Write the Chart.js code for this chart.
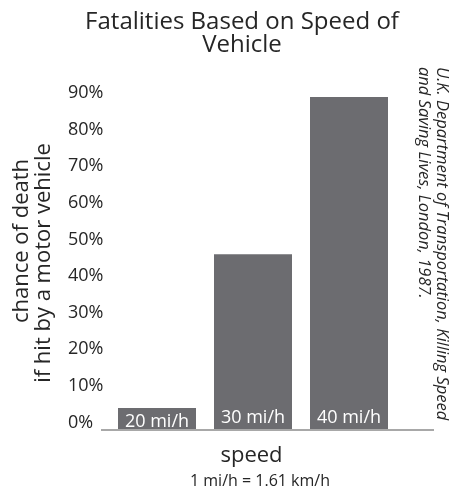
<!DOCTYPE html>
<html>
<head>
<meta charset="utf-8">
<script src="https://cdn.jsdelivr.net/npm/chart.js@4/dist/chart.umd.min.js"></script>
<style>
  html, body { margin: 0; padding: 0; background: #ffffff; }
  #c { display: block; }
</style>
</head>
<body>
<canvas id="c" width="453" height="493"></canvas>
<script>
// Chance of death for a pedestrian hit by a vehicle, by impact speed
const speeds = ['20 mi/h', '30 mi/h', '40 mi/h'];
const deathChance = [6, 48, 91];
const yTicks = [0, 10, 20, 30, 40, 50, 60, 70, 80, 90];

const titleLines = ['Fatalities Based on Speed of', 'Vehicle'];
const yTitleLines = ['chance of death', 'if hit by a motor vehicle'];
const xTitle = 'speed';
const xNote = '1 mi/h = 1.61 km/h';
const sourceLines = ['U.K. Department of Transportation, Killing Speed', 'and Saving Lives, London, 1987.'];

const FONT = '"Open Sans", "DejaVu Sans", sans-serif';
const TEXT = '#262626';
const BAR = '#6c6c70';

// Draws titles, in-bar labels, baseline and the rotated source note
const decorations = {
  id: 'decorations',
  afterDatasetsDraw(chart) {
    const ctx = chart.ctx;
    const area = chart.chartArea;
    const y0 = chart.scales.y.getPixelForValue(0);
    ctx.save();

    // baseline
    ctx.strokeStyle = '#a8a8a8';
    ctx.lineWidth = 2;
    ctx.beginPath();
    ctx.moveTo(area.left - 8, y0);
    ctx.lineTo(area.right + 37, y0);
    ctx.stroke();

    // category labels inside the bars
    ctx.fillStyle = '#ffffff';
    ctx.font = '18px ' + FONT;
    ctx.textAlign = 'center';
    ctx.textBaseline = 'alphabetic';
    chart.getDatasetMeta(0).data.forEach((bar, i) => {
      const ty = Math.max(bar.y + 18.5, bar.base - 7);
      ctx.fillText(speeds[i], bar.x, ty);
    });

    // chart title
    ctx.fillStyle = TEXT;
    ctx.font = '24px ' + FONT;
    ctx.fillText(titleLines[0], 242, 28.5);
    ctx.fillText(titleLines[1], 242, 52);

    // x axis title and unit note
    ctx.font = '22px ' + FONT;
    ctx.fillText(xTitle, 251.5, 462);
    ctx.font = '16px ' + FONT;
    ctx.fillText(xNote, 260, 486);

    // y axis title, rotated
    ctx.font = '22px ' + FONT;
    [[28, 241], [50, 263]].forEach(([x, y], i) => {
      ctx.save();
      ctx.translate(x, y);
      ctx.rotate(-Math.PI / 2);
      ctx.fillText(yTitleLines[i], 0, 0);
      ctx.restore();
    });

    // source note, reading top to bottom
    ctx.font = 'italic 16.5px ' + FONT;
    ctx.textAlign = 'left';
    [[437, 67], [419, 67]].forEach(([x, y], i) => {
      ctx.save();
      ctx.translate(x, y);
      ctx.rotate(Math.PI / 2);
      ctx.fillText(sourceLines[i], 0, 0);
      ctx.restore();
    });

    ctx.restore();
  }
};

new Chart(document.getElementById('c'), {
  type: 'bar',
  data: {
    labels: speeds,
    datasets: [{
      data: deathChance,
      backgroundColor: BAR,
      borderWidth: 0,
      barPercentage: 0.8125,
      categoryPercentage: 1
    }]
  },
  options: {
    responsive: false,
    devicePixelRatio: 1,
    animation: false,
    events: [],
    layout: { padding: { left: 68, right: 56, top: 64, bottom: 63 } },
    plugins: {
      legend: { display: false },
      title: { display: false },
      tooltip: { enabled: false }
    },
    scales: {
      x: { display: false },
      y: {
        min: 0,
        max: 100,
        grid: { display: false, drawTicks: false },
        border: { display: false },
        afterBuildTicks: (axis) => { axis.ticks = yTicks.map(v => ({ value: v })); },
        afterFit: (axis) => { axis.width = 41; },
        ticks: {
          callback: (v) => v + '%',
          crossAlign: 'far',
          labelOffset: -7.5,
          padding: 0,
          color: TEXT,
          font: { family: FONT, size: 18 }
        }
      }
    }
  },
  plugins: [decorations]
});
</script>
</body>
</html>
